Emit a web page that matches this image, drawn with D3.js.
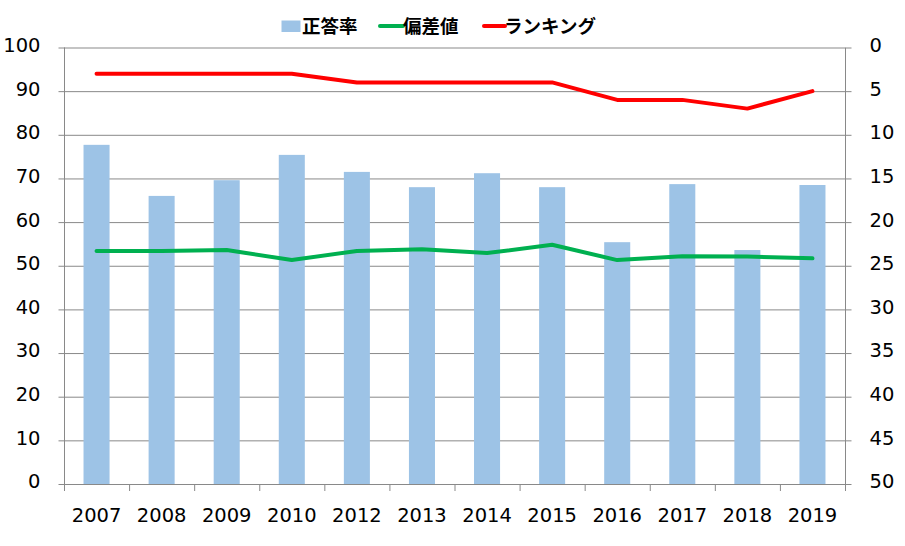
<!DOCTYPE html>
<html><head><meta charset="utf-8">
<script src="https://cdn.jsdelivr.net/npm/d3@7"></script>
<style>body{margin:0;background:#fff}svg{display:block}</style>
</head><body>
<svg id="c" width="905" height="546"></svg>
<script>
const years = ["2007","2008","2009","2010","2012","2013","2014","2015","2016","2017","2018","2019"];
const correctRate = [77.7,66.0,69.6,75.4,71.5,68.0,71.2,68.0,55.4,68.7,53.6,68.5];
const deviation = [53.4,53.4,53.6,51.3,53.4,53.8,52.9,54.8,51.3,52.2,52.1,51.7];
const ranking = [3,3,3,3,4,4,4,4,6,6,7,5];
const leftTicks = [0,10,20,30,40,50,60,70,80,90,100];
const rightTicks = [0,5,10,15,20,25,30,35,40,45,50];
const legendLabels = ["正答率","偏差値","ランキング"];

const svg = d3.select("#c");
const L = 64, R = 845, T = 47.5, B = 484;
const x = d3.scaleBand().domain(years).range([L, R]);
const yL = d3.scaleLinear().domain([0,100]).range([B, T]);
const yR = d3.scaleLinear().domain([0,50]).range([T, B]);
const font = "'DejaVu Sans', Verdana, sans-serif";
const fs = 19.5;
const gridCol = "#898989";

// gridlines
svg.append("g").selectAll("line").data(leftTicks.filter(d=>d>0)).join("line")
  .attr("x1", L).attr("x2", R).attr("y1", d=>yL(d)+0.5).attr("y2", d=>yL(d)+0.5)
  .attr("stroke", gridCol).attr("stroke-width", 1);

// bars
const bw = x.bandwidth()*0.4;
svg.append("g").selectAll("rect").data(correctRate).join("rect")
  .attr("x", (d,i)=>x(years[i]) + x.bandwidth()/2 - bw/2)
  .attr("width", bw)
  .attr("y", d=>yL(d)).attr("height", d=>B - yL(d))
  .attr("fill", "#9DC3E6");

// axes
const axL = svg.append("g").attr("transform", `translate(${L+0.5},0)`)
  .call(d3.axisLeft(yL).tickValues(leftTicks).tickSize(6).tickPadding(6));
const axR = svg.append("g").attr("transform", `translate(${R+0.5},0)`)
  .call(d3.axisRight(yR).tickValues(rightTicks).tickSize(6).tickPadding(18));
const axB = svg.append("g").attr("transform", `translate(0,${B+0.5})`)
  .call(d3.axisBottom(x).tickSize(0).tickPadding(23.5));
// bottom ticks at band boundaries
svg.append("g").selectAll("line").data(d3.range(years.length+1)).join("line")
  .attr("x1", i=>L + i*x.step()+0.5).attr("x2", i=>L + i*x.step()+0.5)
  .attr("y1", B).attr("y2", B+7).attr("stroke", gridCol);

[axL, axR, axB].forEach(a=>{
  a.selectAll(".domain").attr("stroke", gridCol);
  a.selectAll(".tick line").attr("stroke", gridCol);
  a.selectAll("text").attr("font-family", font).attr("font-size", fs).attr("fill", "#000");
});
axB.select(".domain").attr("d", `M${L},0H${R}`);
axL.select(".domain").attr("d", `M0,${B}V${T}`);
axR.select(".domain").attr("d", `M0,${B}V${T}`);
axL.selectAll(".tick text").attr("x", -24).attr("dy", "0.2em");
axR.selectAll(".tick text").attr("dy", "0.2em");

// lines
const lineL = d3.line().x((d,i)=>x(years[i]) + x.bandwidth()/2).y(d=>yL(d));
const lineR = d3.line().x((d,i)=>x(years[i]) + x.bandwidth()/2).y(d=>yR(d));
svg.append("path").datum(deviation).attr("d", lineL)
  .attr("fill","none").attr("stroke","#00B050").attr("stroke-width",4).attr("stroke-linejoin","round").attr("stroke-linecap","round");
svg.append("path").datum(ranking).attr("d", lineR)
  .attr("fill","none").attr("stroke","#FF0000").attr("stroke-width",4).attr("stroke-linejoin","round").attr("stroke-linecap","round");

// legend
const lg = svg.append("g").attr("font-family", "'Noto Sans CJK JP', sans-serif").attr("font-size", 18.5).attr("font-weight", "bold");
lg.append("rect").attr("x", 281.5).attr("y", 20.5).attr("width", 19).attr("height", 11.5).attr("fill", "#9DC3E6");
lg.append("text").attr("x", 302).attr("y", 33).text(legendLabels[0]);
lg.append("line").attr("x1", 380).attr("x2", 403).attr("y1", 26).attr("y2", 26).attr("stroke", "#00B050").attr("stroke-width", 4).attr("stroke-linecap","round");
lg.append("text").attr("x", 403).attr("y", 33).text(legendLabels[1]);
lg.append("line").attr("x1", 484).attr("x2", 505).attr("y1", 26).attr("y2", 26).attr("stroke", "#FF0000").attr("stroke-width", 4).attr("stroke-linecap","round");
lg.append("text").attr("x", 504).attr("y", 33).text(legendLabels[2]);
</script>
</body></html>
